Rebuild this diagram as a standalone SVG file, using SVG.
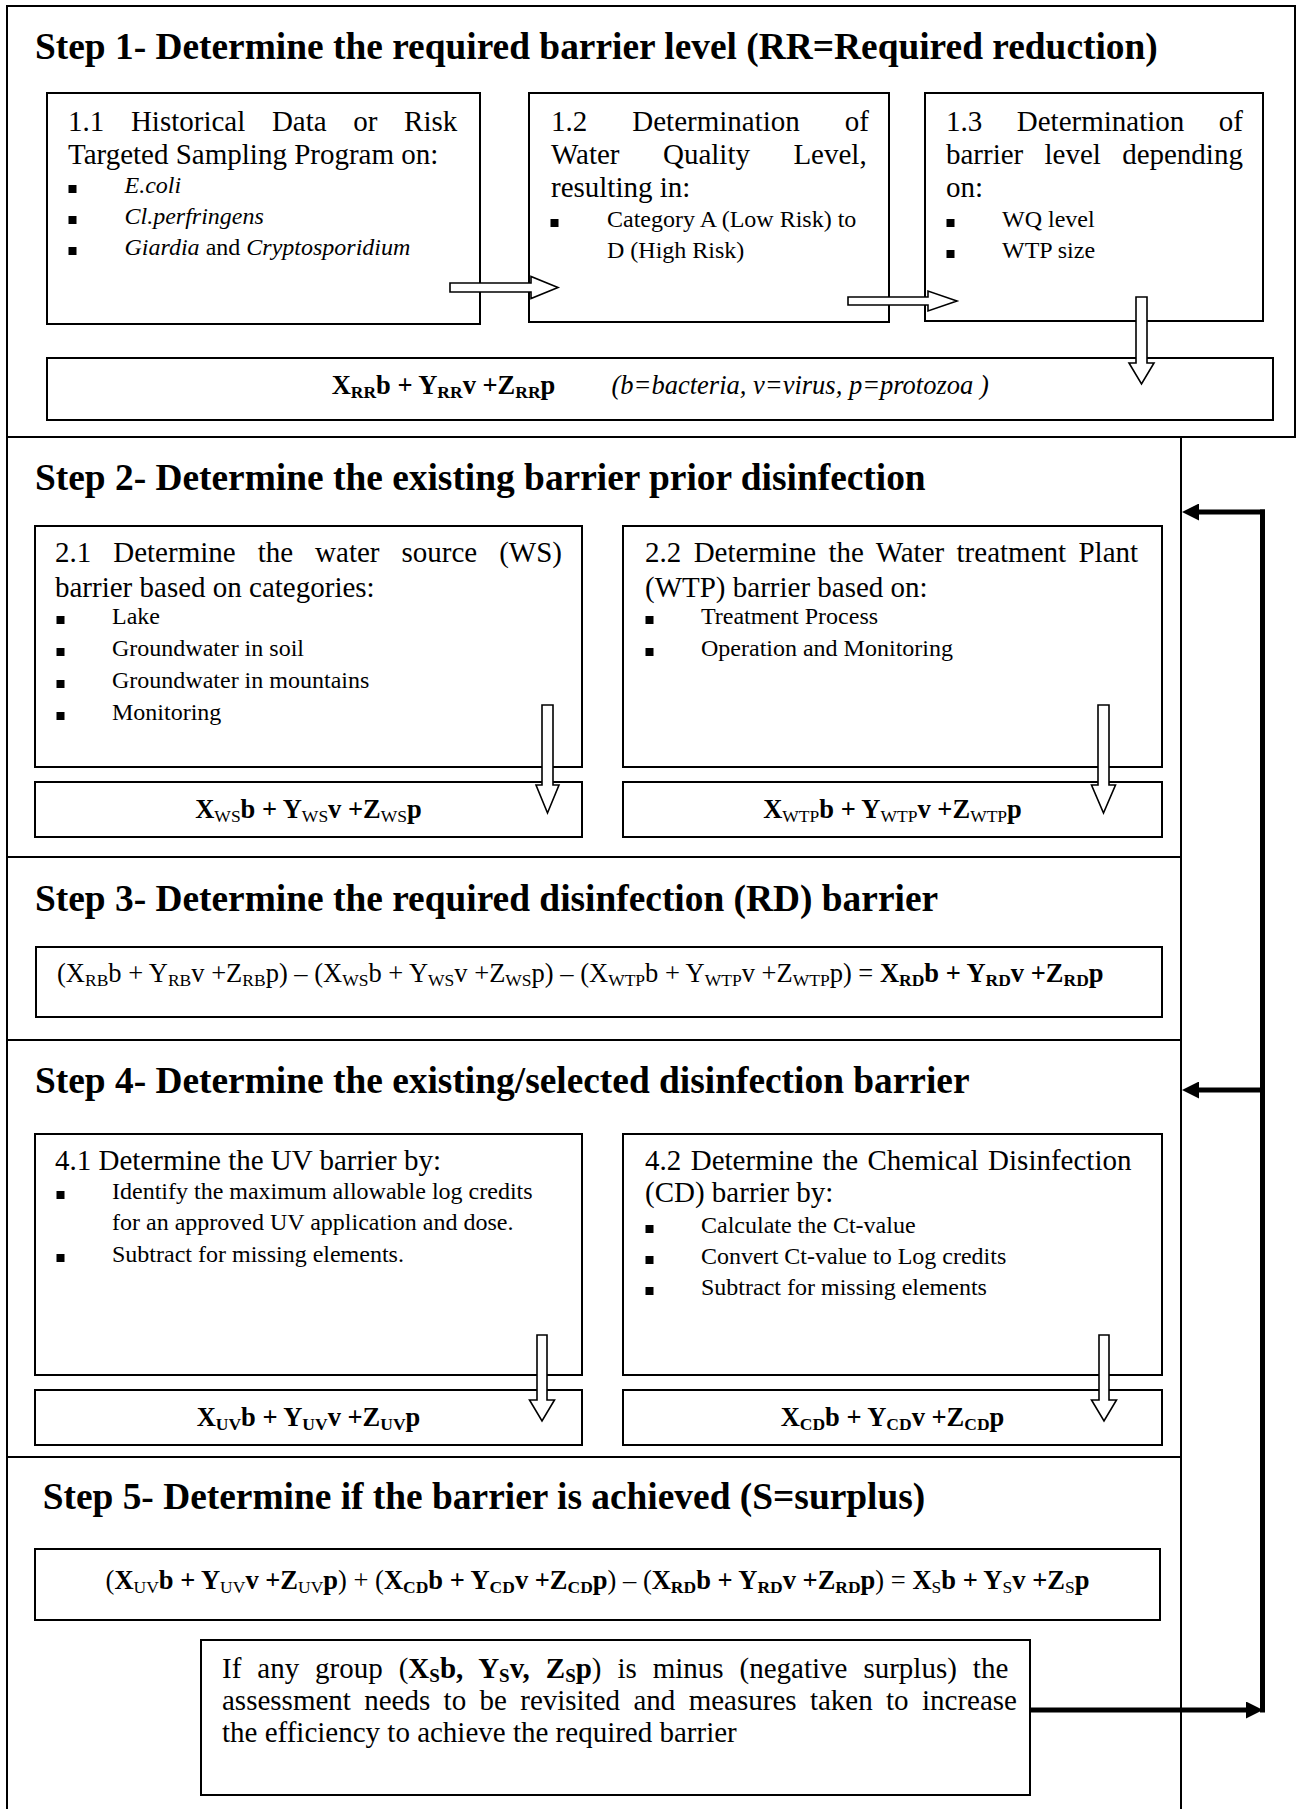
<svg xmlns="http://www.w3.org/2000/svg" width="1300" height="1809" viewBox="0 0 1300 1809">
<defs>
<style>
.frame{fill:none;stroke:#000;stroke-width:2}
.box{fill:#fff;stroke:#000;stroke-width:2}
text{font-family:"Liberation Serif","Times New Roman",serif;fill:#000}
.title{font-size:37.4px;font-weight:bold}
.body{font-size:29px}
.bul{font-size:24px}
.fx{font-size:26.5px}
.b{font-weight:bold}
.n{font-weight:normal}
.i{font-style:italic}
.sub{font-size:17.5px}
.sq{fill:#000}
.blk{fill:#fff;stroke:#000;stroke-width:1.6}
.fb{fill:none;stroke:#000;stroke-width:5}
</style>
<marker id="head" viewBox="0 0 17 17" markerWidth="17" markerHeight="17" refX="0" refY="8.5" orient="auto" markerUnits="userSpaceOnUse">
<path d="M0,0 L17,8.5 L0,17 Z" fill="#000"/>
</marker>
</defs>
<rect width="1300" height="1809" fill="#fff"/>

<g id="step1">
<rect class="frame" x="7" y="6" width="1288" height="431"/>
<text class="title" x="35" y="59">Step 1- Determine the required barrier level (RR=Required reduction)</text>
</g>
<g id="n1_1">
<rect class="box" x="47" y="93" width="433" height="231"/>
<text class="body" x="68" y="131" word-spacing="19.4">1.1 Historical Data or Risk</text>
<text class="body" x="68" y="164">Targeted Sampling Program on:</text>
<rect class="sq" x="68.5" y="185" width="8" height="8"/>
<text class="bul i" x="124.5" y="193">E.coli</text>
<rect class="sq" x="68.5" y="216" width="8" height="8"/>
<text class="bul i" x="124.5" y="224">Cl.perfringens</text>
<rect class="sq" x="68.5" y="247" width="8" height="8"/>
<text class="bul" x="124.5" y="255"><tspan class="i">Giardia</tspan> and <tspan class="i">Cryptosporidium</tspan></text>
</g>
<g id="n1_2">
<rect class="box" x="529" y="93" width="360" height="229"/>
<text class="body" x="551" y="131" word-spacing="37.8">1.2 Determination of</text>
<text class="body" x="551" y="164" word-spacing="36.2">Water Quality Level,</text>
<text class="body" x="551" y="197">resulting in:</text>
<rect class="sq" x="550.5" y="219" width="8" height="8"/>
<text class="bul" x="607" y="227">Category A (Low Risk) to</text>
<text class="bul" x="607" y="258">D (High Risk)</text>
</g>
<g id="n1_3">
<rect class="box" x="925" y="93" width="338" height="228"/>
<text class="body" x="946" y="131" word-spacing="27.3">1.3 Determination of</text>
<text class="body" x="946" y="164" word-spacing="14">barrier level depending</text>
<text class="body" x="946" y="197">on:</text>
<rect class="sq" x="946.5" y="219" width="8" height="8"/>
<text class="bul" x="1002" y="227">WQ level</text>
<rect class="sq" x="946.5" y="250" width="8" height="8"/>
<text class="bul" x="1002" y="258">WTP size</text>
</g>
<g id="f_rr">
<rect class="box" x="47" y="358" width="1226" height="62"/>
<text class="fx b" x="331.7" y="394">X<tspan class="sub" dy="4">RR</tspan><tspan dy="-4">b + Y</tspan><tspan class="sub" dy="4">RR</tspan><tspan dy="-4">v +Z</tspan><tspan class="sub" dy="4">RR</tspan><tspan dy="-4">p</tspan></text>
<text class="fx i" x="611.5" y="394">(b=bacteria, v=virus, p=protozoa )</text>
</g>

<g id="step2">
<rect class="frame" x="7" y="437" width="1174" height="420"/>
<text class="title" x="35" y="490">Step 2- Determine the existing barrier prior disinfection</text>
</g>
<g id="n2_1">
<rect class="box" x="35" y="526" width="547" height="241"/>
<text class="body" x="55" y="562" word-spacing="14.75">2.1 Determine the water source (WS)</text>
<text class="body" x="55" y="597">barrier based on categories:</text>
<rect class="sq" x="56.5" y="616" width="8" height="8"/>
<text class="bul" x="112" y="624">Lake</text>
<rect class="sq" x="56.5" y="648" width="8" height="8"/>
<text class="bul" x="112" y="656">Groundwater in soil</text>
<rect class="sq" x="56.5" y="680" width="8" height="8"/>
<text class="bul" x="112" y="688">Groundwater in mountains</text>
<rect class="sq" x="56.5" y="712" width="8" height="8"/>
<text class="bul" x="112" y="720">Monitoring</text>
</g>
<g id="f_ws">
<rect class="box" x="35" y="782" width="547" height="55"/>
<text class="fx b" x="308.5" y="818" text-anchor="middle">X<tspan class="sub n" dy="4">WS</tspan><tspan dy="-4">b + Y</tspan><tspan class="sub n" dy="4">WS</tspan><tspan dy="-4">v +Z</tspan><tspan class="sub n" dy="4">WS</tspan><tspan dy="-4">p</tspan></text>
</g>
<g id="n2_2">
<rect class="box" x="623" y="526" width="539" height="241"/>
<text class="body" x="645" y="562" word-spacing="5.13">2.2 Determine the Water treatment Plant</text>
<text class="body" x="645" y="597">(WTP) barrier based on:</text>
<rect class="sq" x="645.5" y="616" width="8" height="8"/>
<text class="bul" x="701" y="624">Treatment Process</text>
<rect class="sq" x="645.5" y="648" width="8" height="8"/>
<text class="bul" x="701" y="656">Operation and Monitoring</text>
</g>
<g id="f_wtp">
<rect class="box" x="623" y="782" width="539" height="55"/>
<text class="fx b" x="892.5" y="818" text-anchor="middle">X<tspan class="sub n" dy="4">WTP</tspan><tspan dy="-4">b + Y</tspan><tspan class="sub n" dy="4">WTP</tspan><tspan dy="-4">v +Z</tspan><tspan class="sub n" dy="4">WTP</tspan><tspan dy="-4">p</tspan></text>
</g>

<g id="step3">
<rect class="frame" x="7" y="857" width="1174" height="183"/>
<text class="title" x="35" y="911">Step 3- Determine the required disinfection (RD) barrier</text>
</g>
<g id="f_rd">
<rect class="box" x="36" y="947" width="1126" height="70"/>
<text class="fx" x="57" y="982">(X<tspan class="sub" dy="4">RB</tspan><tspan dy="-4">b + Y</tspan><tspan class="sub" dy="4">RB</tspan><tspan dy="-4">v +Z</tspan><tspan class="sub" dy="4">RB</tspan><tspan dy="-4">p) – (X</tspan><tspan class="sub" dy="4">WS</tspan><tspan dy="-4">b + Y</tspan><tspan class="sub" dy="4">WS</tspan><tspan dy="-4">v +Z</tspan><tspan class="sub" dy="4">WS</tspan><tspan dy="-4">p) – (X</tspan><tspan class="sub" dy="4">WTP</tspan><tspan dy="-4">b + Y</tspan><tspan class="sub" dy="4">WTP</tspan><tspan dy="-4">v +Z</tspan><tspan class="sub" dy="4">WTP</tspan><tspan dy="-4">p) = </tspan><tspan class="b">X</tspan><tspan class="sub b" dy="4">RD</tspan><tspan class="b" dy="-4">b + Y</tspan><tspan class="sub b" dy="4">RD</tspan><tspan class="b" dy="-4">v +Z</tspan><tspan class="sub b" dy="4">RD</tspan><tspan class="b" dy="-4">p</tspan></text>
</g>

<g id="step4">
<rect class="frame" x="7" y="1040" width="1174" height="417"/>
<text class="title" x="35" y="1093">Step 4- Determine the existing/selected disinfection barrier</text>
</g>
<g id="n4_1">
<rect class="box" x="35" y="1134" width="547" height="241"/>
<text class="body" x="55" y="1170">4.1 Determine the UV barrier by:</text>
<rect class="sq" x="56.5" y="1191" width="8" height="8"/>
<text class="bul" x="112" y="1199">Identify the maximum allowable log credits</text>
<text class="bul" x="112" y="1230">for an approved UV application and dose.</text>
<rect class="sq" x="56.5" y="1254" width="8" height="8"/>
<text class="bul" x="112" y="1262">Subtract for missing elements.</text>
</g>
<g id="f_uv">
<rect class="box" x="35" y="1390" width="547" height="55"/>
<text class="fx b" x="308.5" y="1426" text-anchor="middle">X<tspan class="sub" dy="4">UV</tspan><tspan dy="-4">b + Y</tspan><tspan class="sub" dy="4">UV</tspan><tspan dy="-4">v +Z</tspan><tspan class="sub" dy="4">UV</tspan><tspan dy="-4">p</tspan></text>
</g>
<g id="n4_2">
<rect class="box" x="623" y="1134" width="539" height="241"/>
<text class="body" x="645" y="1170" word-spacing="2.23">4.2 Determine the Chemical Disinfection</text>
<text class="body" x="645" y="1202">(CD) barrier by:</text>
<rect class="sq" x="645.5" y="1225" width="8" height="8"/>
<text class="bul" x="701" y="1233">Calculate the Ct-value</text>
<rect class="sq" x="645.5" y="1256" width="8" height="8"/>
<text class="bul" x="701" y="1264">Convert Ct-value to Log credits</text>
<rect class="sq" x="645.5" y="1287" width="8" height="8"/>
<text class="bul" x="701" y="1295">Subtract for missing elements</text>
</g>
<g id="f_cd">
<rect class="box" x="623" y="1390" width="539" height="55"/>
<text class="fx b" x="892.5" y="1426" text-anchor="middle">X<tspan class="sub" dy="4">CD</tspan><tspan dy="-4">b + Y</tspan><tspan class="sub" dy="4">CD</tspan><tspan dy="-4">v +Z</tspan><tspan class="sub" dy="4">CD</tspan><tspan dy="-4">p</tspan></text>
</g>

<g id="step5">
<rect class="frame" x="7" y="1457" width="1174" height="380"/>
<text class="title" x="42.7" y="1509">Step 5- Determine if the barrier is achieved (S=surplus)</text>
</g>
<g id="f_s">
<rect class="box" x="35" y="1549" width="1125" height="71"/>
<text class="fx" x="597.5" y="1589" text-anchor="middle">(<tspan class="b">X</tspan><tspan class="sub" dy="4">UV</tspan><tspan class="b" dy="-4">b + Y</tspan><tspan class="sub" dy="4">UV</tspan><tspan class="b" dy="-4">v +Z</tspan><tspan class="sub" dy="4">UV</tspan><tspan class="b" dy="-4">p</tspan>) + (<tspan class="b">X</tspan><tspan class="sub b" dy="4">CD</tspan><tspan class="b" dy="-4">b + Y</tspan><tspan class="sub b" dy="4">CD</tspan><tspan class="b" dy="-4">v +Z</tspan><tspan class="sub b" dy="4">CD</tspan><tspan class="b" dy="-4">p</tspan>) – (<tspan class="b">X</tspan><tspan class="sub b" dy="4">RD</tspan><tspan class="b" dy="-4">b + Y</tspan><tspan class="sub b" dy="4">RD</tspan><tspan class="b" dy="-4">v +Z</tspan><tspan class="sub b" dy="4">RD</tspan><tspan class="b" dy="-4">p</tspan>) = <tspan class="b">X</tspan><tspan class="sub" dy="4">S</tspan><tspan class="b" dy="-4">b + Y</tspan><tspan class="sub" dy="4">S</tspan><tspan class="b" dy="-4">v +Z</tspan><tspan class="sub" dy="4">S</tspan><tspan class="b" dy="-4">p</tspan></text>
</g>
<g id="note">
<rect class="box" x="201" y="1640" width="829" height="155"/>
<text class="body" x="222" y="1678" word-spacing="8.7">If any group (<tspan class="b">X</tspan><tspan class="b" font-size="19" dy="4">S</tspan><tspan class="b" dy="-4">b, Y</tspan><tspan class="b" font-size="19" dy="4">S</tspan><tspan class="b" dy="-4">v, Z</tspan><tspan class="b" font-size="19" dy="4">S</tspan><tspan class="b" dy="-4">p</tspan>) is minus (negative surplus) the</text>
<text class="body" x="222" y="1710" word-spacing="6.1">assessment needs to be revisited and measures taken to increase</text>
<text class="body" x="222" y="1742">the efficiency to achieve the required barrier</text>
</g>

<g id="connectors">
<path class="blk" d="M450,283 H531 V276.5 L558,287.5 L531,298.5 V292 H450 Z"/>
<path class="blk" d="M848,297 H928 V291 L957,301 L928,311 V305 H848 Z"/>
<path class="blk" d="M1136,297 H1147 V363 H1154 L1141.5,384 L1129,363 H1136 Z"/>
<path class="blk" d="M542,705 H553 V785 H559 L547.5,813 L536,785 H542 Z"/>
<path class="blk" d="M1098,705 H1109 V785 H1115.5 L1103.5,813 L1091.5,785 H1098 Z"/>
<path class="blk" d="M537,1335 H547 V1400 H554.5 L542,1421 L529.5,1400 H537 Z"/>
<path class="blk" d="M1099,1335 H1109 V1400 H1116.5 L1104,1421 L1091.5,1400 H1099 Z"/>
<path class="fb" d="M1262.5,509.5 V1712.5"/>
<path class="fb" d="M1265,512 H1199" marker-end="url(#head)"/>
<path class="fb" d="M1265,1090 H1199" marker-end="url(#head)"/>
<path class="fb" d="M1030,1710 H1246" marker-end="url(#head)"/>
</g>
</svg>
